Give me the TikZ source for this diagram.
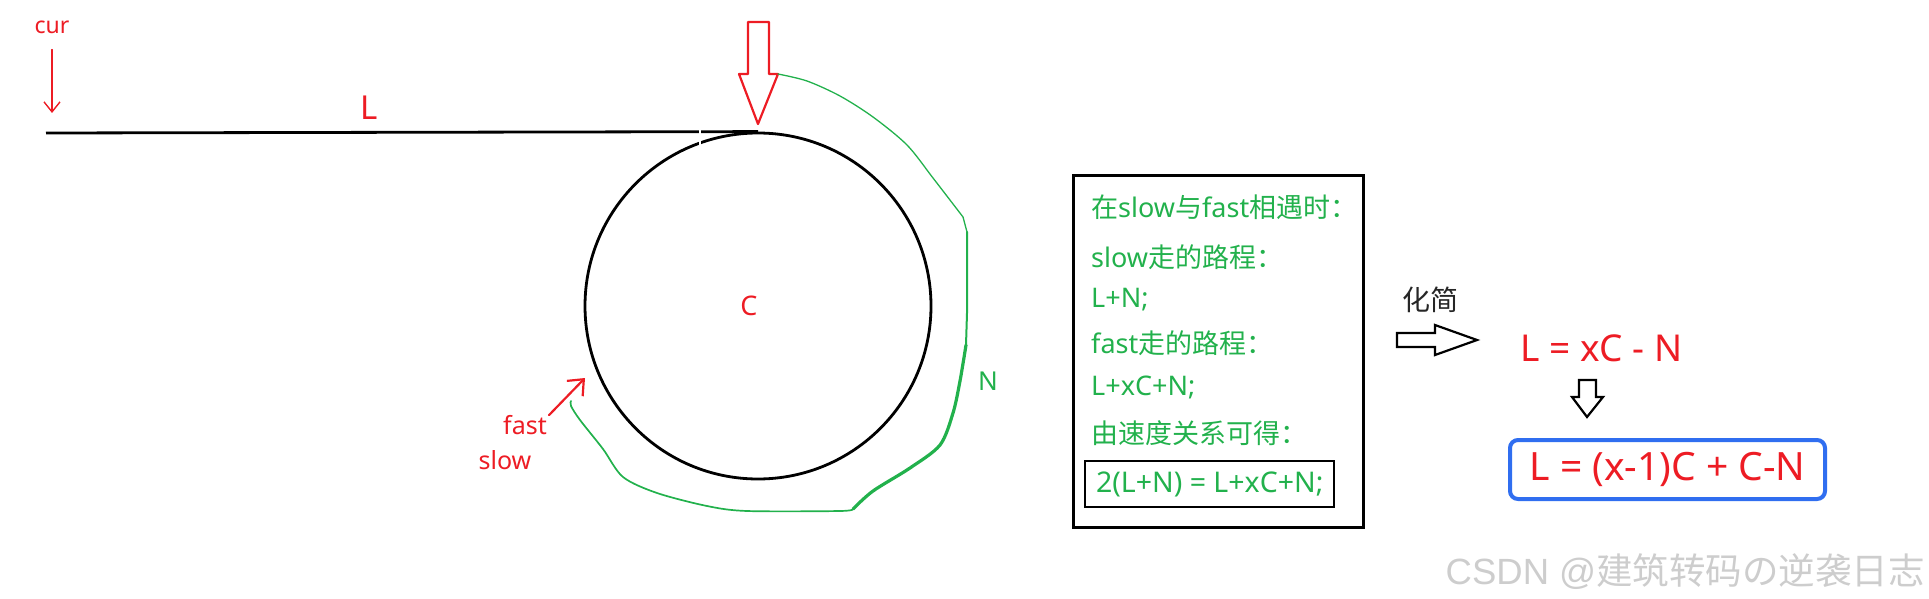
\documentclass[tikz,border=0pt]{standalone}
\usepackage{fontspec}
\setmainfont{Noto Sans}
\newfontfamily\cjk{Noto Sans CJK SC}
\newfontfamily\wmfont{Liberation Sans}
\usetikzlibrary{arrows.meta}
\definecolor{paintred}{RGB}{237,28,36}
\definecolor{paintgreen}{RGB}{34,177,76}
\definecolor{boxblue}{RGB}{48,110,240}
\definecolor{wmgray}{RGB}{205,205,205}
\begin{document}
\begin{tikzpicture}[x=1pt, y=-1pt,
	redtxt/.style={text=paintred, inner sep=0pt},
	greentxt/.style={text=paintgreen, anchor=west, inner sep=0pt, font={\fontsize{27}{32}\selectfont}},
	redpen/.style={draw=paintred, line width=2.2pt, line cap=round, line join=round},
	greenpen/.style={draw=paintgreen, line cap=round, line join=round},
	hollow/.style={draw=black, line width=2.2pt, fill=white}]
	\useasboundingbox (0,0) rectangle (1929,599);

	% list head and pointer
	\node[redtxt, font={\fontsize{23}{26}\selectfont}] (cur) at (52,27) {cur};
	\coordinate (curtip) at (52,113);
	\draw[redpen, line width=1.4pt, -{Straight Barb[length=10pt, width=16pt]}] ([yshift=-16pt]cur.south) -- (curtip);
	\node[redtxt, font={\fontsize{33}{36}\selectfont}] (Llab) at (369,108) {L};

	% the cycle
	\node[draw, circle, line width=2.8pt, minimum size=346pt, inner sep=0pt] (ring) at (758,306) {};
	\node[redtxt, font={\fontsize{27}{30}\selectfont}] (Clab) at (749,306) {C};
	\coordinate (start) at (46,133);
	\draw[line width=2.8pt] (start) -- (ring.north);
	\draw[white, line width=2pt] (700,126) -- (700,150);

	% entry point
	\draw[redpen] (748,22) -- (769,22) -- (769,74) -- (778,74) -- (758,124) -- (739,74) -- (748,74) -- cycle;

	% path N walked by slow
	\draw[greenpen, line width=1.3pt] plot[smooth, tension=0.5] coordinates {(778,74) (807,81) (840,96) (873,117) (907,145) (933,178) (963,217)} -- (967,232);
	\draw[greenpen, line width=2pt] (967,232) -- (967,313) -- (966,345);
	\draw[greenpen, line width=3.2pt] plot[smooth, tension=0.5] coordinates {(966,345) (960,381) (953,413) (940,445) (910,468) (873,491) (853,509)};
	\draw[greenpen, line width=1.7pt] plot[smooth, tension=0.5] coordinates {(853,509) (840,511) (747,511) (707,506) (657,493) (623,477) (603,449) (580,420) (571,406) (571,401)};
	\node[text=paintgreen, font={\fontsize{26}{30}\selectfont}] (Nlab) at (988,381) {N};

	% meeting point
	\node[redtxt, font={\fontsize{25}{30}\selectfont}] (fast) at (525,425) {fast};
	\node[redtxt, font={\fontsize{25}{30}\selectfont}] (slow) at (505,460) {slow};
	\coordinate (fasttip) at (585,378);
	\draw[redpen, -{Straight Barb[length=13pt, width=22pt]}] ([xshift=2pt]fast.north east) -- (fasttip);

	% derivation
	\node[draw, line width=2.2pt, minimum width=290pt, minimum height=352pt, inner sep=0pt] (panel) at (1218.5,351.5) {};
	\node[greentxt] (t1) at (1091,207) {{\cjk 在}slow{\cjk 与}fast{\cjk 相遇时：}};
	\node[greentxt] (t2) at (1091,257) {slow{\cjk 走的路程：}};
	\node[greentxt] (t3) at (1091,300) {L+N;};
	\node[greentxt] (t4) at (1091,343) {fast{\cjk 走的路程：}};
	\node[greentxt] (t5) at (1091,387) {L+xC+N;};
	\node[greentxt] (t6) at (1091,433) {\cjk 由速度关系可得：};
	\node[greentxt, draw=black, line width=2.4pt, minimum width=249pt, minimum height=46pt, font={\fontsize{28.5}{32}\selectfont}] (eqbox) at (1084,484) {2(L+N) = L+xC+N;};

	% simplification
	\node[text=black!85, font={\cjk\fontsize{28}{32}\selectfont}] (simp) at (1430,300) {化简};
	\draw[hollow] (1397,333) -- (1435,333) -- (1435,325) -- (1477,340) -- (1435,355) -- (1435,347) -- (1397,347) -- cycle;
	\node[redtxt, anchor=west, font={\fontsize{37}{40}\selectfont}] (reduced) at (1520,348) {L = xC - N};
	\draw[hollow] (1579,380) -- (1596,380) -- (1596,397) -- (1603,397) -- (1587,417) -- (1572,397) -- (1579,397) -- cycle;
	\node[draw=boxblue, line width=4pt, rounded corners=8pt, minimum width=315pt, minimum height=59pt, text=paintred, font={\fontsize{39}{42}\selectfont}] (final) at (1667.5,469.5) {L = (x-1)C + C-N};

	\node[text=wmgray, anchor=east, inner sep=0pt, font={\wmfont\fontsize{36.5}{40}\selectfont}] (mark) at (1925,572) {CSDN @{\cjk 建筑转码の逆袭日志}};
\end{tikzpicture}
\end{document}
